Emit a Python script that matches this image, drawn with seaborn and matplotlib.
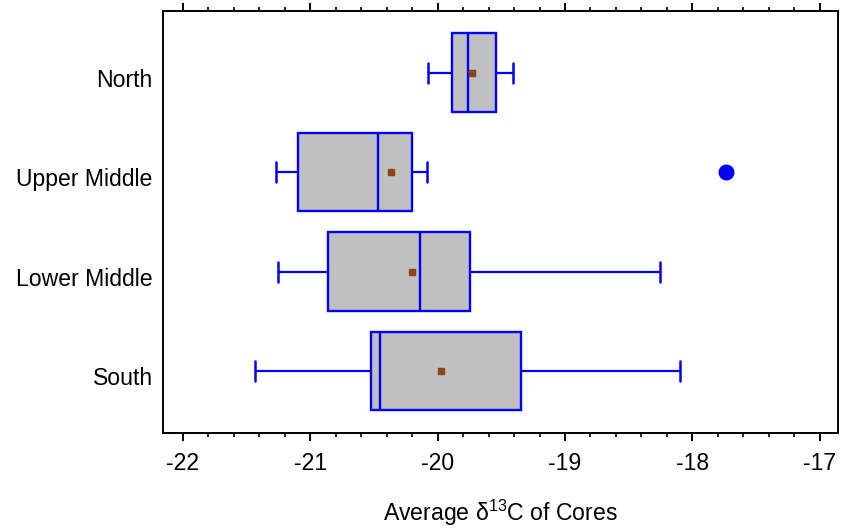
import numpy as np
import pandas as pd
import matplotlib
matplotlib.use("Agg")
import matplotlib.pyplot as plt
import matplotlib.transforms as mtransforms
from matplotlib.ticker import MultipleLocator, FixedLocator
import seaborn as sns

# Category order (top to bottom)
regions = ["North", "Upper Middle", "Lower Middle", "South"]

# Per-region δ13C values (read so that quartiles, whiskers, means and outlier match)
north = [-20.075, -19.95, -19.89, -19.80, -19.76, -19.65, -19.54, -19.495, -19.41]
upper_middle = [-21.267, -21.18, -21.098, -20.90, -20.466, -20.374, -20.198, -20.085, -17.735]
lower_middle = [-21.254, -21.20, -20.858, -20.70, -20.140, -20.00, -19.749, -19.647, -18.252]
south = [-21.437, -20.90, -20.521, -20.48, -20.453, -19.90, -19.345, -18.628, -18.093]

x_ticks = [-22, -21, -20, -19, -18, -17]
x_tick_labels = ["-22", "-21", "-20", "-19", "-18", "-17"]

df = pd.DataFrame({
    "region": (["North"] * len(north) + ["Upper Middle"] * len(upper_middle)
               + ["Lower Middle"] * len(lower_middle) + ["South"] * len(south)),
    "value": north + upper_middle + lower_middle + south,
})

sns.set_style("ticks")
plt.rcParams["font.family"] = ["Liberation Sans", "DejaVu Sans"]
plt.rcParams["mathtext.fontset"] = "custom"
plt.rcParams["mathtext.rm"] = "Liberation Sans"
plt.rcParams["mathtext.it"] = "Liberation Sans:italic"
for k in ["text.color", "axes.labelcolor", "xtick.color", "ytick.color", "axes.edgecolor"]:
    plt.rcParams[k] = "black"

fs = 16.6
fig = plt.figure(figsize=(8.43, 5.29), dpi=100)
ax = fig.add_axes([0.1934, 0.182, 0.9935 - 0.1934, 0.979 - 0.182])

blue = "#0000ff"
sns.boxplot(
    data=df, x="value", y="region", order=regions, orient="h",
    color="#c0c0c0", saturation=1, width=0.79, linecolor=blue, linewidth=1.7,
    whis=1.5, showmeans=True,
    meanprops=dict(marker="s", markerfacecolor="#8b4513", markeredgecolor="#8b4513",
                   markersize=5),
    flierprops=dict(marker="o", markerfacecolor=blue, markeredgecolor=blue,
                    markersize=10.5),
    capprops=dict(color=blue, linewidth=1.8),
    whiskerprops=dict(color=blue, linewidth=1.6),
    capwidths=0.2,
    ax=ax,
)

ax.set_xlim(-22.156, -16.86)
ax.set_ylim(3.62, -0.62)
ax.xaxis.set_major_locator(FixedLocator(x_ticks))
ax.set_xticklabels(x_tick_labels, fontsize=fs)
ax.xaxis.set_minor_locator(MultipleLocator(0.2))
ax.tick_params(axis="x", which="major", direction="out", length=6, width=1.4,
               top=True, bottom=True, labeltop=False, pad=8, colors="black")
ax.tick_params(axis="x", which="minor", direction="out", length=3.2, width=1.2,
               top=True, bottom=True, colors="black")
ax.tick_params(axis="y", length=0, pad=7.5, labelsize=fs, colors="black")
offset = mtransforms.ScaledTranslation(0, -5 / 100, fig.dpi_scale_trans)
for lab in ax.get_yticklabels():
    lab.set_transform(lab.get_transform() + offset)
for s in ax.spines.values():
    s.set_visible(True)
    s.set_linewidth(1.4)
    s.set_color("black")

ax.set_ylabel("")
ax.set_xlabel(r"Average δ$^{\mathregular{13}}$C of Cores", fontsize=fs, labelpad=16,
              color="black")

fig.savefig("out.png", dpi=100)
